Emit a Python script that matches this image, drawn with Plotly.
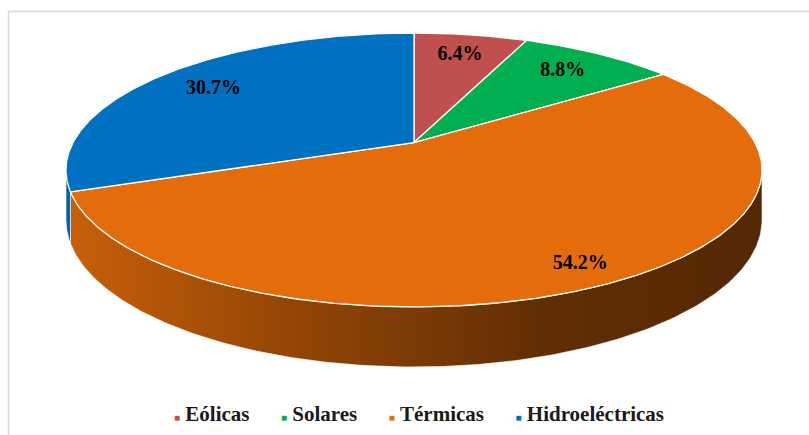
import numpy as np
import plotly.graph_objects as go

# Generation mix by source (percent of total)
categories = ["Eólicas", "Solares", "Térmicas", "Hidroeléctricas"]
shares = [6.4, 8.8, 54.2, 30.7]
colors = ["#C0504D", "#00B050", "#E46C0A", "#0070C0"]

# Pie geometry in pixel space (tilted disc seen with mild perspective)
W, H = 809, 435
CX, CY = 414.0, 142.6      # projected disc centre
RX, RY = 341.0, 131.5      # horizontal / vertical radii
PERSP = 0.2                # perspective strength (far side shrinks)
DEPTH = 48.0               # thickness of the slab
LABEL_R = {"Térmicas": 0.88}
LABEL_R_DEFAULT = 0.78
SERIF = "Liberation Serif, Times New Roman, DejaVu Serif, serif"

# Side-wall shading: fraction of the base colour from left to right
SHADE = [(0.0, 0.88), (0.33, 0.64), (0.5, 0.54), (0.68, 0.43), (1.0, 0.37)]


def project(theta_deg, rho=1.0):
    t = np.radians(theta_deg)
    k = 1.0 / (1.0 + PERSP * rho * np.cos(t))
    x = CX + RX * rho * np.sin(t) * k
    y = CY - RY * rho * np.cos(t) * k
    return x, y, k


def shade(hex_color, f):
    h = hex_color.lstrip("#")
    r, g, b = (int(h[i:i + 2], 16) for i in (0, 2, 4))
    return "rgb(%d,%d,%d)" % (round(r * f), round(g * f), round(b * f))


total = sum(shares)
bounds = np.concatenate([[0.0], np.cumsum(shares)]) / total * 360.0

# visible part of the cylinder wall lies between the silhouette angles
side_lo = np.degrees(np.arccos(-PERSP))
side_hi = 360.0 - side_lo
x_left = CX - RX / np.sqrt(1 - PERSP ** 2)
x_right = CX + RX / np.sqrt(1 - PERSP ** 2)

fig = go.Figure()

# side walls first
for name, col, a0, a1 in zip(categories, colors, bounds[:-1], bounds[1:]):
    lo, hi = max(a0, side_lo), min(a1, side_hi)
    if lo >= hi:
        continue
    th = np.linspace(lo, hi, 200)
    x, y, k = project(th)
    xs = np.concatenate([x, x[::-1], x[:1]])
    ys = np.concatenate([y, (y + DEPTH * k)[::-1], y[:1]])
    fig.add_trace(go.Scatter(
        x=xs, y=ys, mode="lines", fill="toself",
        line=dict(color="rgba(255,255,255,0.8)", width=0.8),
        fillgradient=dict(
            type="horizontal", start=x_left, stop=x_right,
            colorscale=[[p, shade(col, f)] for p, f in SHADE]),
        hoverinfo="skip", showlegend=False))

# top faces
for name, col, a0, a1 in zip(categories, colors, bounds[:-1], bounds[1:]):
    th = np.linspace(a0, a1, max(int((a1 - a0) * 2), 20))
    x, y, _ = project(th)
    xs = np.concatenate([[CX], x, [CX]])
    ys = np.concatenate([[CY], y, [CY]])
    fig.add_trace(go.Scatter(
        x=xs, y=ys, mode="lines", fill="toself", fillcolor=col,
        line=dict(color="white", width=1.3),
        name=name, hoverinfo="name", showlegend=False))

# percentage labels
lx, ly, lt = [], [], []
for name, v, a0, a1 in zip(categories, shares, bounds[:-1], bounds[1:]):
    x, y, _ = project((a0 + a1) / 2.0, LABEL_R.get(name, LABEL_R_DEFAULT))
    lx.append(x)
    ly.append(y)
    lt.append("<b>%.1f%%</b>" % v)
fig.add_trace(go.Scatter(
    x=lx, y=ly, mode="text", text=lt,
    textfont=dict(family=SERIF, size=20, color="black"),
    hoverinfo="skip", showlegend=False))

# legend row
gap = "\u00a0" * 6
legend_text = gap.join(
    '<span style="color:%s;font-size:10px">\u25a0</span>\u00a0<b>%s</b>'
    % (c, n) for n, c in zip(categories, colors))
fig.add_annotation(
    x=419, y=414, xref="x", yref="y", text=legend_text, showarrow=False,
    xanchor="center", yanchor="middle",
    font=dict(family=SERIF, size=21, color="#1a1a1a"))

# chart area frame
fig.add_shape(type="rect", x0=8.5, y0=11.5, x1=W + 20, y1=H + 20,
              xref="x", yref="y", line=dict(color="#D9D9D9", width=1.5),
              layer="below")

fig.update_layout(
    width=W, height=H, margin=dict(l=0, r=0, t=0, b=0),
    paper_bgcolor="white", plot_bgcolor="white",
    xaxis=dict(range=[0, W], visible=False, fixedrange=True),
    yaxis=dict(range=[H, 0], visible=False, fixedrange=True),
    showlegend=False)

fig.write_html("out.html")
